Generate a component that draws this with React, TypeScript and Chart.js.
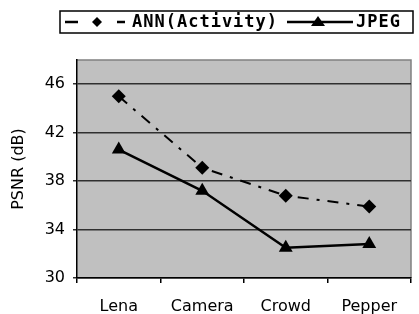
import React, { useEffect, useRef } from "react";
import { Chart, registerables } from "chart.js";

Chart.register(...registerables);

const categories = ["Lena", "Camera", "Crowd", "Pepper"];
const annValues = [45.0, 39.1, 36.8, 35.9];
const jpegValues = [40.6, 37.2, 32.5, 32.8];
const yTickValues = [30, 34, 38, 42, 46];
const seriesLabels = ["ANN(Activity)", "JPEG"];

const plotBgPlugin = {
  id: "plotBg",
  beforeDraw(chart: any) {
    const { ctx, chartArea } = chart;
    ctx.save();
    ctx.fillStyle = "#C0C0C0";
    ctx.fillRect(chartArea.left, chartArea.top, chartArea.right - chartArea.left, chartArea.bottom - chartArea.top);
    ctx.strokeStyle = "#808080";
    ctx.lineWidth = 1.5;
    ctx.beginPath();
    ctx.moveTo(chartArea.left, chartArea.top);
    ctx.lineTo(chartArea.right, chartArea.top);
    ctx.lineTo(chartArea.right, chartArea.bottom);
    ctx.stroke();
    ctx.restore();
  },
};

const boxLegendPlugin = {
  id: "boxLegend",
  afterDraw(chart: any) {
    const { ctx } = chart;
    const ds = chart.data.datasets;
    ctx.save();
    ctx.fillStyle = "#ffffff";
    ctx.fillRect(60, 11, 353, 22);
    ctx.strokeStyle = "#000000";
    ctx.lineWidth = 1.5;
    ctx.strokeRect(60, 11, 353, 22);
    const cy = 22;
    ctx.lineWidth = 2.5;
    ctx.fillStyle = "#000";
    ctx.beginPath();
    ctx.moveTo(65, cy);
    ctx.lineTo(78, cy);
    ctx.moveTo(117, cy);
    ctx.lineTo(125, cy);
    ctx.stroke();
    ctx.beginPath();
    ctx.moveTo(97, cy - 5);
    ctx.lineTo(102, cy);
    ctx.lineTo(97, cy + 5);
    ctx.lineTo(92, cy);
    ctx.closePath();
    ctx.fill();
    ctx.beginPath();
    ctx.moveTo(287, cy);
    ctx.lineTo(353, cy);
    ctx.stroke();
    ctx.beginPath();
    ctx.moveTo(318, cy - 6);
    ctx.lineTo(325, cy + 4);
    ctx.lineTo(311, cy + 4);
    ctx.closePath();
    ctx.fill();
    ctx.font = 'bold 17px "DejaVu Sans Mono"';
    (ctx as any).letterSpacing = "1px";
    ctx.textBaseline = "middle";
    ctx.textAlign = "left";
    ctx.fillText(ds[0].label, 132, cy + 1);
    ctx.fillText(ds[1].label, 356, cy + 1);
    ctx.restore();
  },
};

export default function App() {
  const canvasRef = useRef<HTMLCanvasElement>(null);

  useEffect(() => {
    document.body.style.margin = "0";
    const canvas = canvasRef.current;
    if (!canvas) return;
    const chart = new Chart(canvas, {
      type: "line",
      data: {
        labels: categories,
        datasets: [
          {
            label: seriesLabels[0],
            data: annValues,
            borderColor: "#000",
            backgroundColor: "#000",
            borderWidth: 2,
            borderDash: [11, 8, 3, 8],
            pointStyle: "rectRot",
            pointRadius: 7,
            pointBorderWidth: 0,
          },
          {
            label: seriesLabels[1],
            data: jpegValues,
            borderColor: "#000",
            backgroundColor: "#000",
            borderWidth: 2.5,
            pointStyle: "triangle",
            pointRadius: 8,
            pointBorderWidth: 0,
          },
        ],
      },
      options: {
        animation: false,
        responsive: false,
        maintainAspectRatio: false,
        layout: { padding: { top: 60, right: 4, left: 0, bottom: 0 } },
        plugins: { legend: { display: false }, tooltip: { enabled: false } },
        scales: {
          x: {
            offset: true,
            grid: { offset: true, drawOnChartArea: false, color: "#000", tickLength: 5, lineWidth: 1.5 },
            border: { color: "#000", width: 1.5 },
            ticks: { color: "#000", font: { family: "DejaVu Sans", size: 16 }, padding: 14, maxRotation: 0, autoSkip: false },
            afterFit(scale: any) {
              scale.height = 36;
            },
          },
          y: {
            min: 30,
            max: 48,
            grid: { color: "#303030", lineWidth: 1.5, tickLength: 4 },
            border: { color: "#000", width: 1.5 },
            ticks: { color: "#000", font: { family: "DejaVu Sans", size: 16 }, padding: 8, stepSize: 4 },
            afterBuildTicks(scale: any) {
              scale.ticks = yTickValues.map((v) => ({ value: v }));
            },
            title: { display: true, text: "PSNR (dB)", color: "#000", font: { family: "DejaVu Sans", size: 16 }, padding: { top: 9, bottom: 0 } },
            afterFit(scale: any) {
              scale.width = 77;
            },
          },
        },
      },
      plugins: [plotBgPlugin, boxLegendPlugin],
    });
    return () => chart.destroy();
  }, []);

  return (
    <div style={{ width: 419, height: 314, background: "#fff" }}>
      <canvas ref={canvasRef} width={419} height={314} style={{ display: "block" }} />
    </div>
  );
}
